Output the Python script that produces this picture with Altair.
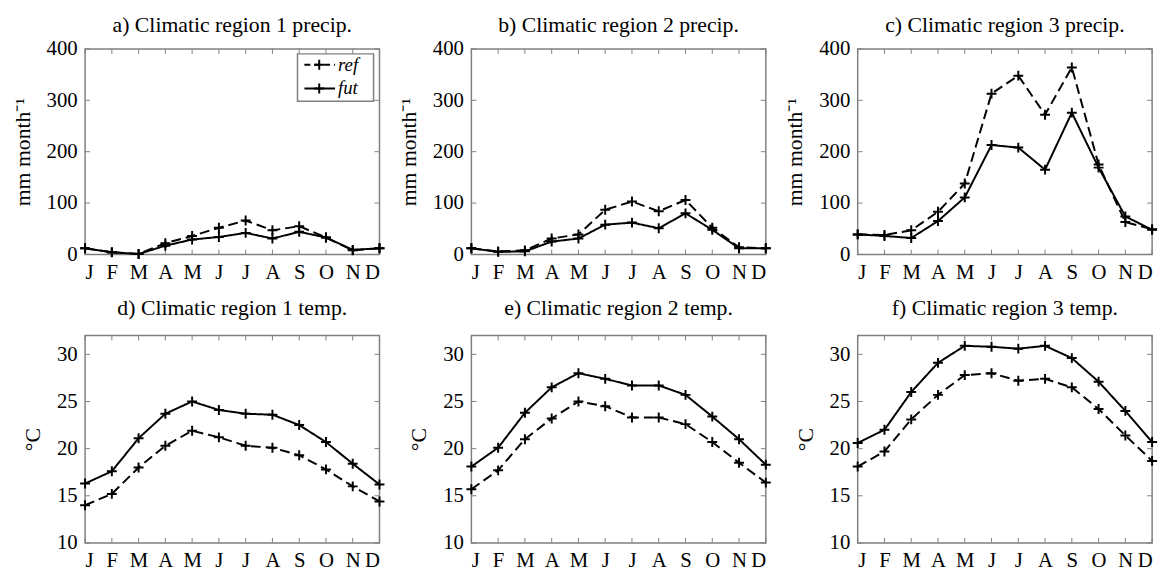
import altair as alt
import pandas as pd

months = ['J', 'F', 'M', 'A', 'M', 'J', 'J', 'A', 'S', 'O', 'N', 'D']
month_idx = list(range(1, 13))
series = ['ref', 'fut']

precip_ref_r1 = [12, 4.5, 1, 22, 36, 52, 66, 47, 55, 33, 8, 12]
precip_fut_r1 = [12, 4, 1, 17, 29, 34, 42, 31, 44, 33, 9, 12]
precip_ref_r2 = [12, 6, 8, 31, 39, 87, 103, 84, 106, 52, 14, 12]
precip_fut_r2 = [12, 5, 6, 25, 31, 58, 62, 51, 80, 48, 12, 12]
precip_ref_r3 = [39, 38, 47, 83, 138, 313, 348, 272, 364, 175, 63, 49]
precip_fut_r3 = [39, 36, 32, 65, 111, 213, 208, 165, 276, 169, 74, 48]

temp_ref_r1 = [14.0, 15.2, 18.0, 20.3, 21.9, 21.2, 20.3, 20.1, 19.3, 17.8, 16.0, 14.4]
temp_fut_r1 = [16.3, 17.6, 21.1, 23.7, 25.0, 24.1, 23.7, 23.6, 22.5, 20.7, 18.4, 16.2]
temp_ref_r2 = [15.7, 17.7, 21.0, 23.2, 25.0, 24.5, 23.3, 23.3, 22.6, 20.7, 18.5, 16.4]
temp_fut_r2 = [18.1, 20.1, 23.8, 26.5, 28.0, 27.4, 26.7, 26.7, 25.7, 23.4, 21.0, 18.3]
temp_ref_r3 = [18.1, 19.7, 23.1, 25.7, 27.8, 28.0, 27.2, 27.4, 26.5, 24.2, 21.4, 18.7]
temp_fut_r3 = [20.6, 22.0, 26.0, 29.1, 30.9, 30.8, 30.6, 30.9, 29.6, 27.1, 24.0, 20.7]

precip_ticks = [0, 100, 200, 300, 400]
temp_ticks = [10, 15, 20, 25, 30]

FONT = 'Liberation Serif'
FRAME = '#808080'
PLUS = 'M-1,0L1,0M0,-1L0,1'
W = 298
TL = 5  # inner tick length

label_expr = '[' + ','.join("'%s'" % m for m in months) + '][datum.value-1]'


def panel(title, ref, fut, ydomain, yticks, ytitle, h, legend=False, toff=1):
    df = pd.DataFrame({'m': month_idx * 2, 'v': ref + fut,
                       's': [series[0]] * 12 + [series[1]] * 12})
    x = alt.X('m:Q', scale=alt.Scale(domain=[1, 12], nice=False, zero=False),
              axis=alt.Axis(values=month_idx, labelExpr=label_expr, title=None))
    y = alt.Y('v:Q', scale=alt.Scale(domain=ydomain, nice=False, zero=False),
              axis=alt.Axis(values=yticks, title=ytitle))
    dash = alt.StrokeDash('s:N', scale=alt.Scale(domain=series, range=[[10, 5], [1, 0]]),
                          legend=None)
    base = alt.Chart(df)
    lines = base.mark_line(color='black', strokeWidth=2).encode(x=x, y=y, strokeDash=dash, detail='s:N')
    pts = base.mark_point(shape=PLUS, filled=False, color='black', size=100,
                          strokeWidth=2, opacity=1).encode(x=x, y=y)

    mdf = pd.DataFrame({'m': month_idx})
    top_t = alt.Chart(mdf).mark_rule(color=FRAME).encode(x=x, y=alt.value(0), y2=alt.value(TL))
    bot_t = alt.Chart(mdf).mark_rule(color=FRAME).encode(x=x, y=alt.value(h), y2=alt.value(h - TL))
    ydf = pd.DataFrame({'v': yticks})
    left_t = alt.Chart(ydf).mark_rule(color=FRAME).encode(y=y, x=alt.value(0), x2=alt.value(TL))
    right_t = alt.Chart(ydf).mark_rule(color=FRAME).encode(y=y, x=alt.value(W), x2=alt.value(W - TL))

    layers = [top_t, bot_t, left_t, right_t, lines, pts]

    if legend:
        one = pd.DataFrame({'k': [0]})
        box = alt.Chart(one).mark_rect(fill='white', stroke=FRAME, strokeWidth=1.5).encode(
            x=alt.value(215), x2=alt.value(292), y=alt.value(5), y2=alt.value(53))
        layers.append(box)
        for i, (s, d) in enumerate(zip(series, [[6, 4], [1, 0]])):
            yy = 16 + 24 * i
            sdf = pd.DataFrame({'s': [s]})
            layers.append(alt.Chart(sdf).mark_rule(color='black', strokeWidth=2, strokeDash=d).encode(
                x=alt.value(222), x2=alt.value(253), y=alt.value(yy)))
            layers.append(alt.Chart(sdf).mark_point(shape=PLUS, filled=False, color='black', size=100,
                                                    strokeWidth=2, opacity=1).encode(
                x=alt.value(237), y=alt.value(yy)))
            layers.append(alt.Chart(sdf).mark_text(align='left', baseline='middle', font=FONT,
                                                   fontStyle='italic', fontSize=19, color='black').encode(
                x=alt.value(256), y=alt.value(yy), text='s:N'))

    return alt.layer(*layers).properties(
        width=W, height=h,
        title=alt.TitleParams(title, font=FONT, fontSize=22, fontWeight='normal', color='black',
                              offset=toff, anchor='middle'))


ylab_p = 'mm month\u207b\u00b9'
ylab_t = '\u00b0C'

a = panel('a) Climatic region 1 precip.', precip_ref_r1, precip_fut_r1, [0, 400], precip_ticks, ylab_p, 208, legend=True)
b = panel('b) Climatic region 2 precip.', precip_ref_r2, precip_fut_r2, [0, 400], precip_ticks, ylab_p, 208)
c = panel('c) Climatic region 3 precip.', precip_ref_r3, precip_fut_r3, [0, 400], precip_ticks, ylab_p, 208)
d = panel('d) Climatic region 1 temp.', temp_ref_r1, temp_fut_r1, [10, 32], temp_ticks, ylab_t, 210, toff=15)
e = panel('e) Climatic region 2 temp.', temp_ref_r2, temp_fut_r2, [10, 32], temp_ticks, ylab_t, 210, toff=15)
f = panel('f) Climatic region 3 temp.', temp_ref_r3, temp_fut_r3, [10, 32], temp_ticks, ylab_t, 210, toff=15)

chart = alt.concat(a, b, c, d, e, f, columns=3, spacing={'row': 82, 'column': 93},
                   bounds='flush').properties(
    padding={'left': 2, 'top': 2, 'right': 0, 'bottom': 0}
).configure_view(
    stroke=FRAME, strokeWidth=1.5
).configure_axis(
    domain=False, ticks=False, grid=False,
    labelFont=FONT, labelFontSize=21, labelColor='black',
    titleFont=FONT, titleFontSize=22, titleFontWeight='normal', titleColor='black'
).configure_axisX(labelPadding=7).configure_axisY(labelPadding=8, titlePadding=12)

chart.save('out.html', embed_options={'renderer': 'svg', 'actions': False})
